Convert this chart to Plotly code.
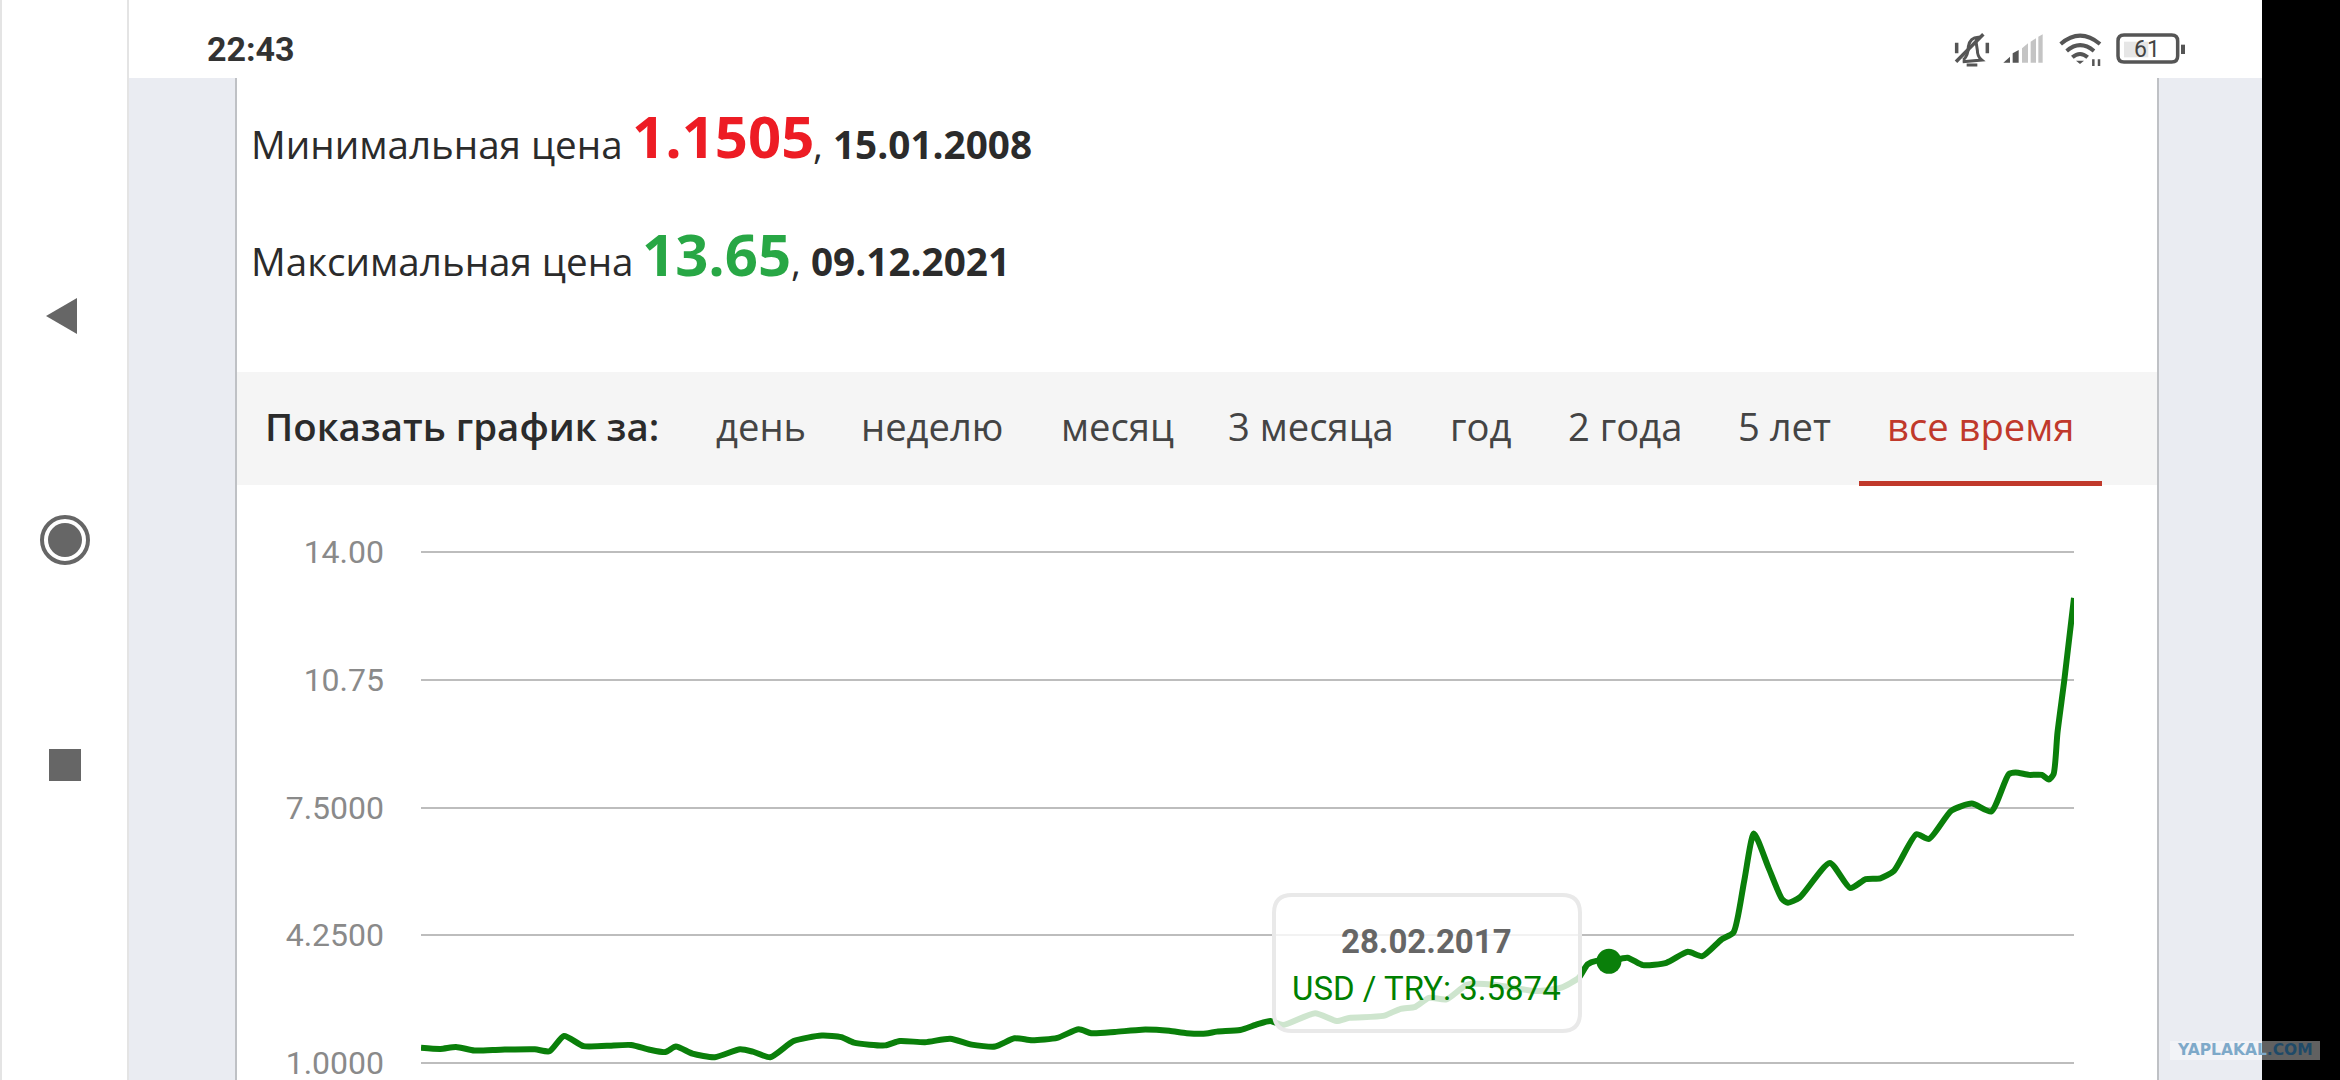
import plotly.graph_objects as go

W, H = 2340, 1080

# usd/try
years = [2004.95, 2005.15, 2005.31, 2005.50, 2005.77, 2006.12, 2006.27, 2006.42, 2006.62, 2006.86,
         2007.11, 2007.30, 2007.46, 2007.57, 2007.74, 2007.97, 2008.23, 2008.36, 2008.54, 2008.78,
         2009.07, 2009.27, 2009.40, 2009.72, 2009.87, 2010.13, 2010.39, 2010.61, 2010.85, 2011.05,
         2011.23, 2011.49, 2011.71, 2011.84, 2012.08, 2012.36, 2012.64, 2012.82, 2013.02, 2013.13,
         2013.37, 2013.55, 2013.68, 2013.81, 2014.14, 2014.36, 2014.49, 2014.84, 2015.02, 2015.17,
         2015.31, 2015.49, 2015.70, 2015.96, 2016.17, 2016.41, 2016.67, 2016.85, 2016.94, 2017.03,
         2017.16, 2017.35, 2017.51, 2017.75, 2017.97, 2018.12, 2018.32, 2018.44, 2018.55, 2018.65,
         2018.80, 2018.94, 2019.00, 2019.12, 2019.43, 2019.64, 2019.80, 2019.95, 2020.09, 2020.32,
         2020.45, 2020.68, 2020.89, 2021.09, 2021.27, 2021.34, 2021.48, 2021.61, 2021.68, 2021.73,
         2021.77, 2021.84, 2021.94]
rates = [1.39, 1.36, 1.41, 1.32, 1.34, 1.35, 1.30, 1.69, 1.43, 1.44,
         1.46, 1.34, 1.28, 1.42, 1.24, 1.15, 1.35, 1.29, 1.15, 1.56,
         1.70, 1.66, 1.52, 1.45, 1.56, 1.53, 1.62, 1.47, 1.42, 1.63,
         1.58, 1.64, 1.86, 1.76, 1.79, 1.85, 1.82, 1.76, 1.75, 1.80,
         1.84, 1.99, 2.07, 1.97, 2.27, 2.07, 2.15, 2.20, 2.38, 2.43,
         2.66, 2.62, 2.99, 3.00, 2.92, 2.83, 2.92, 3.17, 3.51, 3.60,
         3.5874, 3.68, 3.49, 3.55, 3.83, 3.72, 4.15, 4.32, 5.63, 6.84,
         5.97, 5.17, 5.08, 5.21, 6.09, 5.45, 5.68, 5.70, 5.89, 6.82,
         6.70, 7.42, 7.60, 7.40, 8.35, 8.39, 8.33, 8.33, 8.21, 8.35,
         9.40, 10.73, 12.83]

tick_vals = [1, 4.25, 7.5, 10.75, 14]
tick_text = ["1.0000", "4.2500", "7.5000", "10.75", "14.00"]

hover_year = [2017.16]
hover_rate = [3.5874]
hover_date = "28.02.2017"
hover_label = "USD / TRY: 3.5874"

tab_labels = ["день", "неделю", "месяц", "3 месяца", "год", "2 года", "5 лет", "все время"]
tab_x = [715, 860, 1060, 1227, 1449, 1567, 1737, 1886]

GREEN = "#0a7f0a"
GREY_ICON = "#666666"
DARK = "#2b2b2b"


def fx(x):
    return x / W


def fy(y):
    return 1 - y / H


def svg(d, ox=0, oy=0, k=1):
    # pixel path -> paper path
    out = []
    nums = 0
    for tok in d.split():
        if tok.isalpha():
            out.append(tok)
        elif nums % 2 == 0:
            out.append(str(fx(ox + float(tok) * k)))
            nums += 1
        else:
            out.append(str(fy(oy + float(tok) * k)))
            nums += 1
    return " ".join(out)


shapes = []


def rect(x0, y0, x1, y1, color, layer="below"):
    shapes.append(dict(type="rect", xref="paper", yref="paper", x0=fx(x0), x1=fx(x1), y0=fy(y0), y1=fy(y1),
                       fillcolor=color, line=dict(width=0), layer=layer))


def path(d, fill=None, line=None, width=0, layer="below", **kw):
    shapes.append(dict(type="path", xref="paper", yref="paper", path=svg(d, **kw), fillcolor=fill or "rgba(0,0,0,0)",
                       line=dict(color=line or "rgba(0,0,0,0)", width=width), layer=layer))


def circle(cx, cy, r, fill=None, line=None, width=0):
    shapes.append(dict(type="circle", xref="paper", yref="paper", x0=fx(cx - r), x1=fx(cx + r), y0=fy(cy - r), y1=fy(cy + r),
                       fillcolor=fill or "rgba(0,0,0,0)", line=dict(color=line or "rgba(0,0,0,0)", width=width), layer="below"))


notes = []


def label(x, y, text, size, color, family="Open Sans", weight=400, anchor="left"):
    notes.append(dict(xref="paper", yref="paper", x=fx(x), y=fy(y), text=text, showarrow=False, xanchor=anchor,
                      yanchor="middle", borderpad=0, font=dict(family=family, size=size, color=color, weight=weight)))


# page background
rect(0, 0, W, H, "#ffffff")
rect(0, 0, 2, H, "#e4e4e4")
rect(127, 0, 129, H, "#e4e4e4")
rect(129, 78, 2262, H, "#eaecf2")
rect(236, 78, 2159, H, "#ffffff")
rect(235, 78, 237, H, "#bfc1c5")
rect(2157, 78, 2159, H, "#bfc1c5")
rect(129, 0, 2262, 78, "#ffffff")
rect(2262, 0, W, H, "#000000")
rect(237, 372, 2157, 485, "#f5f5f5")
rect(1859, 481, 2102, 486, "#c0392b")

# nav buttons
path("M 46 316 L 77 298 L 77 334 Z", fill=GREY_ICON)
circle(65, 540, 23, line=GREY_ICON, width=4)
circle(65, 540, 17, fill=GREY_ICON)
rect(49, 749, 81, 781, GREY_ICON)

# status icons, drawn in 3x units
ICON = dict(ox=1900, oy=0, k=1 / 3)
STAT = "#555555"
path("M 190 180 Q 205 165 205 140 Q 210 112 235 112 Q 228 120 228 125 M 228 125 L 232 150 Q 232 170 245 180 L 188 185 M 200 195 L 232 195",
     line=STAT, width=3, **ICON)
path("M 168 185 L 250 103", line=STAT, width=3.5, **ICON)
path("M 170 128 L 170 160 M 262 128 L 262 160", line=STAT, width=3.5, **ICON)
path("M 310 188 L 330 170 L 330 188 Z", fill=STAT, **ICON)
path("M 338 188 L 338 160 L 356 150 L 356 188 Z", fill=STAT, **ICON)
path("M 366 188 L 366 145 L 384 130 L 384 188 Z", fill="#c4c4c4", **ICON)
path("M 392 188 L 392 125 L 408 115 L 408 188 Z", fill="#c4c4c4", **ICON)
path("M 415 188 L 415 110 L 428 103 L 428 188 Z", fill="#c4c4c4", **ICON)
path("M 482 132 Q 540 82 600 132", line=STAT, width=4, **ICON)
path("M 500 153 Q 540 118 582 153", line=STAT, width=4, **ICON)
path("M 517 172 Q 540 152 563 172", line=STAT, width=4, **ICON)
path("M 528 182 L 552 182 L 540 192 Z", fill=STAT, **ICON)
path("M 580 178 L 580 198 M 597 178 L 597 198", line=STAT, width=2.5, **ICON)
path("M 672 125 L 745 125 L 745 172 L 672 172 Z", fill="#e6e6e6", **ICON)
path("M 672 105 L 815 105 Q 833 105 833 123 L 833 168 Q 833 186 815 186 L 672 186 Q 654 186 654 168 L 654 123 Q 654 105 672 105 Z",
     line=STAT, width=3.5, **ICON)
path("M 843 134 L 855 134 L 855 162 L 843 162 Z", fill=STAT, **ICON)

# tooltip sits on top of the line
path("M 1292 895 L 1562 895 Q 1580 895 1580 913 L 1580 1013 Q 1580 1031 1562 1031 L 1292 1031 Q 1274 1031 1274 1013 L 1274 913 Q 1274 895 1292 895 Z",
     fill="rgba(255,255,255,0.8)", line="#e9e9e9", width=4, layer="above")

# watermark
rect(2170, 1041, 2320, 1060, "rgba(255,255,255,0.38)", layer="above")

# texts
label(206, 49, "22:43", 34, "#333333", family="Roboto", weight=700)
label(2147, 50, "61", 23, "#444444", family="Roboto", anchor="center")

label(250, 143.5, "Минимальная цена", 38.6, DARK)
label(631, 136, "1.1505", 58, "#ed1c24", weight=700)
label(812, 143.5, ",", 38, DARK)
label(832, 143.5, "15.01.2008", 38.7, DARK, weight=700)
label(250, 261.5, "Максимальная цена", 38.6, DARK)
label(641, 254, "13.65", 58, "#28a745", weight=700)
label(790, 261.5, ",", 38, DARK)
label(810, 261.5, "09.12.2021", 38.7, DARK, weight=700)

label(264, 426, "Показать график за:", 38.4, DARK, weight=600)
for i, name in enumerate(tab_labels):
    label(tab_x[i], 426, name, 38.2, "#c0392b" if name == "все время" else "#444444")

label(1426, 941, hover_date, 33, "#666666", family="Roboto", weight=700, anchor="center")
label(1426, 988, hover_label, 33, "#008000", family="Roboto", anchor="center")
label(2245, 1050, "<span style='color:#7ea9c9'>YAPLAKAL</span><span style='color:#1f4a68'>.COM</span>", 15.5, "#7ea9c9",
      family="DejaVu Sans", weight=700, anchor="center")

fig = go.Figure()
fig.add_trace(go.Scatter(x=years, y=rates, mode="lines", line=dict(color=GREEN, width=6, shape="spline", smoothing=0.6),
                         cliponaxis=False, hoverinfo="skip"))
fig.add_trace(go.Scatter(x=hover_year, y=hover_rate, mode="markers", marker=dict(color=GREEN, size=25), hoverinfo="skip"))

# range padded a little so plotly keeps the gridlines at 1 and 14
fig.update_layout(
    width=W, height=H, margin=dict(l=0, r=0, t=0, b=0, pad=0), paper_bgcolor="#ffffff", plot_bgcolor="rgba(0,0,0,0)",
    showlegend=False, shapes=shapes, annotations=notes,
    xaxis=dict(domain=[421 / W, 2074 / W], range=[2004.95, 2021.94], visible=False, automargin=False),
    yaxis=dict(domain=[1 - 1067 / H, 1 - 548 / H], range=[0.9, 14.1], tickmode="array", tickvals=tick_vals, ticktext=tick_text,
               showgrid=True, gridcolor="#bdbdbd", gridwidth=2, zeroline=False, showline=False, ticklabelstandoff=36,
               ticklabeloverflow="allow", automargin=False, tickfont=dict(family="Roboto", size=32, color="#8a8a8a")),
)

fig.write_html("out.html", post_script="document.body.style.margin='0';", config=dict(displayModeBar=False))
